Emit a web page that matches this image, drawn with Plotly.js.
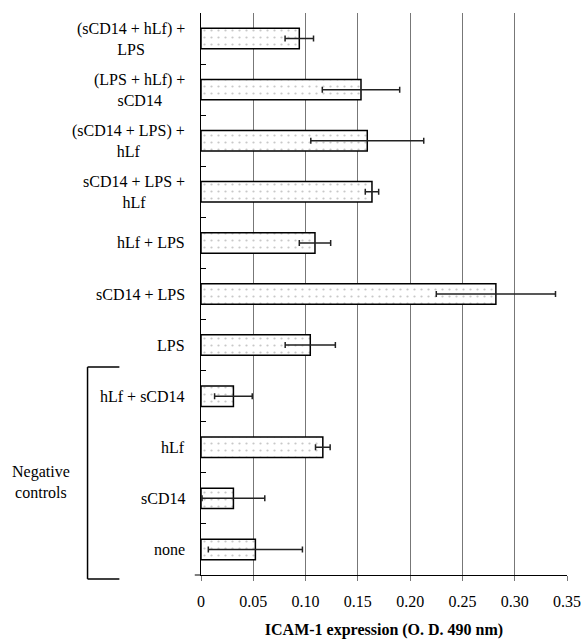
<!DOCTYPE html>
<html>
<head>
<meta charset="utf-8">
<script src="https://cdn.plot.ly/plotly-3.0.1.min.js"></script>
<style>html,body{margin:0;padding:0;background:#fff;}#chart{width:585px;height:640px;}</style>
</head>
<body>
<div id="chart"></div>
<script>
const categories = [
  "(sCD14 + hLf) +<br>LPS",
  "(LPS + hLf) +<br>sCD14",
  "(sCD14 + LPS) +<br>hLf",
  "sCD14 + LPS +<br>hLf",
  "hLf + LPS",
  "sCD14 + LPS",
  "LPS",
  "hLf + sCD14",
  "hLf",
  "sCD14",
  "none"
];
const values = [0.094, 0.153, 0.159, 0.1635, 0.109, 0.282, 0.1045, 0.031, 0.1165, 0.031, 0.052];
const errors = [0.0136, 0.037, 0.054, 0.0064, 0.015, 0.057, 0.024, 0.018, 0.007, 0.030, 0.045];
const tickVals = [0, 0.05, 0.10, 0.15, 0.20, 0.25, 0.30, 0.35];
const tickText = ["0", "0.05", "0.10", "0.15", "0.20", "0.25", "0.30", "0.35"];
const xTitle = "<b>ICAM-1 expression (O. D. 490 nm)</b>";
const groupLabel = "Negative<br>controls";

const font = {family: "Liberation Serif", size: 16, color: "#000"};

const trace = {
  type: "bar",
  orientation: "h",
  x: values,
  y: categories,
  width: 0.4,
  marker: {
    color: "#ffffff",
    line: {color: "#000", width: 1.5},
    pattern: {shape: ".", fgcolor: "#c8c8c8", bgcolor: "#ffffff", size: 7, solidity: 0.08}
  },
  error_x: {type: "data", array: errors, symmetric: true, visible: true, color: "#222", thickness: 1.5, width: 3},
  hoverinfo: "none"
};

const annotations = categories.map(c => ({
  xref: "paper", yref: "y", x: 0, y: c, xanchor: "right", yanchor: "middle",
  xshift: -14, text: c, showarrow: false, align: "center", font: font
}));
annotations.push({
  xref: "paper", yref: "paper", x: -0.437, y: 0.166, xanchor: "center", yanchor: "middle",
  text: groupLabel, showarrow: false, align: "center", font: font
});

const layout = {
  width: 585, height: 640,
  margin: {l: 201, r: 18, t: 13, b: 65},
  paper_bgcolor: "#fff", plot_bgcolor: "#fff",
  font: font,
  showlegend: false,
  xaxis: {
    range: [0, 0.35],
    tickvals: tickVals, ticktext: tickText,
    showgrid: true, gridcolor: "#777", gridwidth: 1,
    zeroline: false,
    showline: true, linecolor: "#000", linewidth: 1,
    ticks: "outside", ticklen: 5, tickcolor: "#777",
    ticklabelstandoff: 7,
    tickfont: font,
    title: {text: xTitle, font: font, standoff: 14}
  },
  yaxis: {
    type: "category",
    autorange: "reversed",
    showticklabels: true,
    tickfont: {family: "Liberation Serif", size: 1, color: "rgba(0,0,0,0)"},
    tickson: "boundaries",
    ticks: "inside", ticklen: 5, tickcolor: "#000", tickwidth: 1,
    showgrid: false, zeroline: false,
    showline: true, linecolor: "#000", linewidth: 1.5
  },
  annotations: annotations,
  shapes: [
    {type: "line", xref: "paper", yref: "paper", x0: -0.310, x1: -0.310, y0: 0.370, y1: -0.007, line: {color: "#000", width: 1.5}},
    {type: "line", xref: "paper", yref: "paper", x0: -0.310, x1: -0.223, y0: 0.370, y1: 0.370, line: {color: "#000", width: 1.5}},
    {type: "line", xref: "paper", yref: "paper", x0: -0.310, x1: -0.223, y0: -0.007, y1: -0.007, line: {color: "#000", width: 1.5}},
    {type: "line", xref: "paper", yref: "paper", x0: -0.017, x1: 0, y0: 0, y1: 0, line: {color: "#000", width: 1}}
  ]
};

Plotly.newPlot("chart", [trace], layout, {displayModeBar: false, staticPlot: true});
</script>
</body>
</html>
